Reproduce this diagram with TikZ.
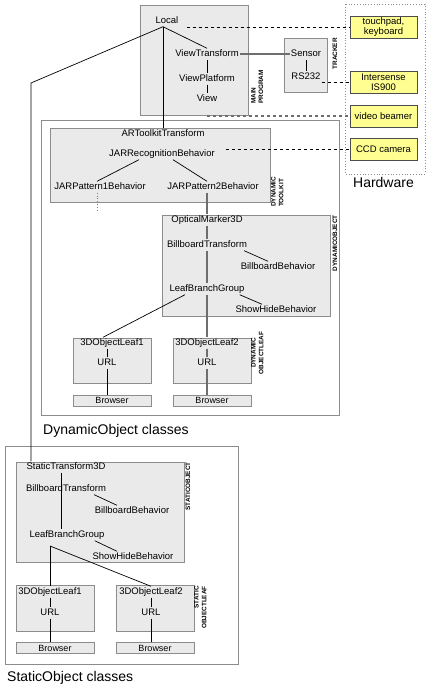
\documentclass[tikz,border=0pt]{standalone}
\usepackage{fontspec}
\setmainfont{Liberation Sans}

\definecolor{panelfill}{RGB}{234,234,234}
\definecolor{panelline}{RGB}{140,140,140}
\definecolor{hwfill}{RGB}{255,255,145}
\definecolor{spinegray}{RGB}{110,110,110}

\begin{document}
\begin{tikzpicture}[x=1pt,y=-1pt,
  cls/.style={inner sep=1pt,text height=7pt,text depth=2pt,font=\fontsize{9.5}{11}\selectfont},
  panel/.style={draw=panelline,fill=panelfill,line width=0.8pt},
  frame/.style={draw=panelline,line width=0.8pt},
  hw/.style={draw=black!70,fill=hwfill,line width=0.8pt,minimum width=67pt,minimum height=22pt,inner sep=1pt,align=center,font=\fontsize{9.5}{10.5}\selectfont},
  tag/.style={rotate=90,inner sep=0pt,font=\fontsize{6.4}{7.6}\selectfont\bfseries},
  browse/.style={panel,minimum width=78pt,minimum height=11pt,inner sep=0pt,font=\fontsize{9}{10}\selectfont},
  caption/.style={anchor=base west,inner sep=0pt,font=\fontsize{14}{16}\selectfont},
  link/.style={draw,line width=0.7pt},
  spine/.style={draw=spinegray,line width=1.6pt},
  wire/.style={dashed,line width=0.8pt}]
\useasboundingbox (0,0) rectangle (427,686);

% outer frames
\draw[frame] (41,120) rectangle (339,415);
\draw[frame] (5,446) rectangle (238,664);
\draw[draw=panelline,dotted,line width=0.8pt] (345,4) rectangle (425,174);

% grey panels
\draw[panel] (140,5) rectangle (248,115);   % main program
\draw[panel] (284,38) rectangle (327,92);   % tracker
\draw[panel] (50,128) rectangle (270,202);  % dynamic toolkit
\draw[panel] (162,215) rectangle (330,316); % dynamic object
\draw[panel] (73,338) rectangle (151,383);
\draw[panel] (173,338) rectangle (251,383);
\draw[panel] (16,462) rectangle (184,562);  % static object
\draw[panel] (16,585) rectangle (94,631);
\draw[panel] (116,585) rectangle (194,631);

% main program and tracker
\node[cls] (local) at (167,21) {Local};
\node[cls] (vt) at (207,54) {ViewTransform};
\node[cls] (vp) at (207,79) {ViewPlatform};
\node[cls] (view) at (207,99) {View};
\node[cls] (sensor) at (306,54) {Sensor};
\node[cls] (rs) at (306,77) {RS232};

% hardware
\node[hw] (touch) at (383.5,27) {touchpad,\\keyboard};
\node[hw] (is) at (383.5,82.5) {Intersense\\IS900};
\node[hw] (beamer) at (383.5,116) {video beamer};
\node[hw] (ccd) at (383.5,149) {CCD camera};

% dynamic toolkit
\node[cls] (art) at (163,134) {ARToolkitTransform};
\node[cls] (jrec) at (162,154) {JARRecognitionBehavior};
\node[cls] (pat1) at (100,187) {JARPattern1Behavior};
\node[cls] (pat2) at (213,187) {JARPattern2Behavior};
\coordinate (pat1end) at (97,212);

% dynamic object
\node[cls] (om) at (207,220) {OpticalMarker3D};
\node[cls] (bbt) at (207,245) {BillboardTransform};
\node[cls] (bbb) at (278,267) {BillboardBehavior};
\node[cls] (lbg) at (207,289) {LeafBranchGroup};
\node[cls] (shb) at (276,310) {ShowHideBehavior};
\node[cls] (dleafa) at (112,343) {3DObjectLeaf1};
\node[cls] (durla) at (107,363) {URL};
\node[browse] (dbrowa) at (112,400.5) {Browser};
\node[cls] (dleafb) at (207,343) {3DObjectLeaf2};
\node[cls] (durlb) at (207,363) {URL};
\node[browse] (dbrowb) at (212,400.5) {Browser};

% static object
\node[cls] (st3d) at (66,467) {StaticTransform3D};
\node[cls] (sbt) at (66,489) {BillboardTransform};
\node[cls] (sbb) at (132,511) {BillboardBehavior};
\node[cls] (slbg) at (67,535) {LeafBranchGroup};
\node[cls] (ssh) at (133,557) {ShowHideBehavior};
\coordinate (sfork) at (50,546);
\node[cls] (sleafa) at (50,592) {3DObjectLeaf1};
\node[cls] (surla) at (50,613) {URL};
\node[browse] (sbrowa) at (55,648) {Browser};
\node[cls] (sleafb) at (151,592) {3DObjectLeaf2};
\node[cls] (surlb) at (151,613) {URL};
\node[browse] (sbrowb) at (155,648) {Browser};

% side tags
\node[tag,anchor=north west,align=left] (maintag) at (251,104) {MAIN\\PROGRAM};
\node[tag,anchor=east] (trtag) at (335,38) {TRACKER};
\node[tag,anchor=north west,align=left] (tktag) at (271,207) {DYNAMIC\\TOOLKIT};
\node[tag,anchor=east] (dotag) at (335,215) {DYNAMICOBJECT};
\node[tag,anchor=north,align=center] (dltag) at (251,353) {DYNAMIC\\OBJECTLEAF};
\node[tag,anchor=east] (sotag) at (188,462) {STATICOBJECT};
\node[tag,anchor=north east,align=right] (sltag) at (194,586) {STATIC\\OBJECTLEAF};

% captions
\node[caption,anchor=base] (hwcap) at (383.5,187) {Hardware};
\node[caption] (dyncap) at (43,434) {DynamicObject classes};
\node[caption] (statcap) at (7,681) {StaticObject classes};

% connectors
\coordinate (bend) at (31,83);
\draw[link] (art.north |- local.south) -- (art.north);
\draw[link] (art.north |- local.south) -- (vt.north);
\draw[link] (art.north |- local.south) -- (bend) -- (bend |- st3d.north);
\draw[link] (vt) -- (vp) -- (view);
\draw[spine] (vt) -- (sensor);
\draw[link] (sensor) -- (rs);

\draw[wire] ([xshift=7pt]local.east |- touch) -- (touch);
\draw[wire] (rs.east |- is) -- (is);
\draw[wire,draw=spinegray,line width=1.4pt] (view |- beamer) -- (beamer);
\draw[wire] ([xshift=10pt]jrec.east |- ccd) -- (ccd);

\draw[link] ([xshift=-23pt]jrec.south) -- ([xshift=-3pt]pat1.north);
\draw[link] ([xshift=11pt]jrec.south) -- ([xshift=-6pt]pat2.north);
\draw[dotted,draw=gray,line width=0.8pt] (pat1.south -| pat1end) -- (pat1end);

\draw[spine] (om |- pat2.south) -- (om) -- (bbt) -- (lbg) -- (dleafb) -- (durlb) -- (durlb |- dbrowb.north);
\draw[link] ([xshift=-4pt]bbt.south east) -- ([xshift=-10pt]bbb.north);
\draw[link] ([xshift=-6pt]lbg.south east) -- ([xshift=-14pt]shb.north);
\draw[link] ([xshift=-22pt]lbg.south) -- ([xshift=-9pt]dleafa.north);
\draw[link] (durla |- dleafa.south) -- (durla) -- (durla |- dbrowa.north);

\draw[link] ([xshift=-5pt]st3d.south) -- ([xshift=-6pt]slbg.north);
\draw[link] ([xshift=-13pt]sbt.south east) -- ([xshift=-15pt]sbb.north);
\draw[link] ([xshift=-11pt]slbg.south east) -- ([xshift=-16pt]ssh.north);
\draw[link] (sfork) -- (sleafa) -- (surla) -- (surla |- sbrowa.north);
\draw[link] (sfork) -- (sleafb.north);
\draw[link] (sleafb) -- (surlb) -- (surlb |- sbrowb.north);
\end{tikzpicture}
\end{document}
